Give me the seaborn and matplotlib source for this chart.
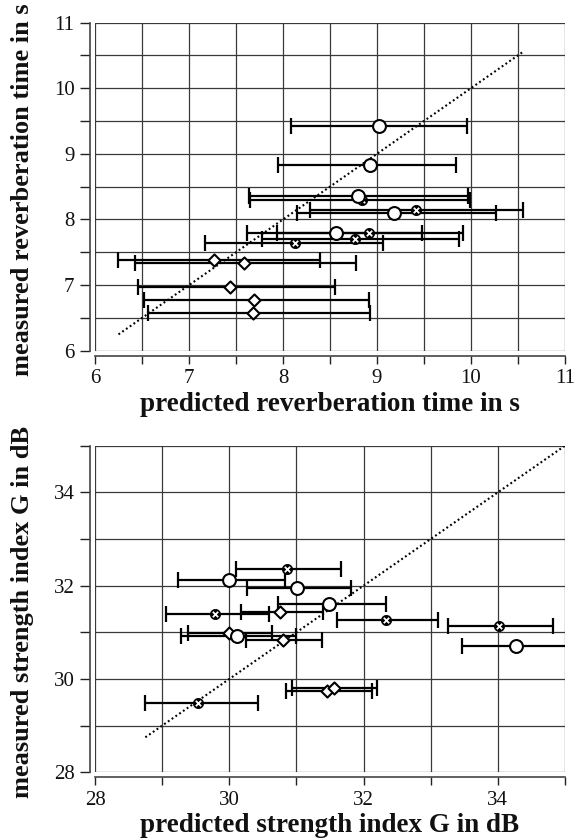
import numpy as np
import pandas as pd
import matplotlib
matplotlib.use("Agg")
import matplotlib.pyplot as plt
import seaborn as sns
from matplotlib.ticker import MultipleLocator, FuncFormatter

# ---------------- data: reverberation time (s) ----------------
rt_circ_x = [9.02, 8.93, 8.80, 9.18, 8.56]
rt_circ_y = [9.42, 8.83, 8.36, 8.10, 7.79]
rt_circ_lo = [8.08, 7.95, 7.64, 8.15, 7.62]
rt_circ_hi = [9.96, 9.84, 9.97, 10.27, 9.48]

rt_cross_x = [8.84, 9.42, 8.92, 8.77, 8.13]
rt_cross_y = [8.29, 8.15, 7.80, 7.71, 7.64]
rt_cross_lo = [7.65, 8.29, 7.94, 7.78, 7.17]
rt_cross_hi = [9.99, 10.55, 9.91, 9.87, 9.06]

rt_diam_x = [7.27, 7.58, 7.44, 7.69, 7.68]
rt_diam_y = [7.38, 7.33, 6.97, 6.77, 6.58]
rt_diam_lo = [6.25, 6.43, 6.46, 6.52, 6.56]
rt_diam_hi = [8.39, 8.78, 8.55, 8.91, 8.93]

rt_diag = [6.25, 10.55]

# ---------------- data: strength index G (dB) ----------------
g_circ_x = [30.00, 31.01, 31.49, 30.11, 34.27]
g_circ_y = [32.13, 31.95, 31.60, 30.93, 30.71]
g_circ_lo = [29.23, 30.27, 30.72, 29.28, 33.46]
g_circ_hi = [30.83, 31.82, 32.33, 31.00, 35.08]

g_cross_x = [30.86, 29.79, 32.33, 34.01, 29.54]
g_cross_y = [32.35, 31.39, 31.26, 31.14, 29.48]
g_cross_lo = [30.10, 29.05, 31.61, 33.25, 28.75]
g_cross_hi = [31.67, 30.59, 33.11, 34.82, 30.43]

g_diam_x = [30.76, 29.99, 30.80, 31.46, 31.56]
g_diam_y = [31.44, 30.98, 30.83, 29.75, 29.81]
g_diam_lo = [30.17, 29.38, 30.25, 30.84, 30.94]
g_diam_hi = [31.39, 30.64, 31.38, 32.12, 32.20]

g_diag = [28.75, 35.0]

rt_xlabel = "predicted reverberation time in s"
rt_ylabel = "measured reverberation time in s"
g_xlabel = "predicted strength index G in dB"
g_ylabel = "measured strength index G in dB"

# ---------------- style ----------------
sns.set_theme(style="ticks")
plt.rcParams["font.family"] = ["Liberation Serif", "DejaVu Serif"]

fig = plt.figure(figsize=(5.74, 8.39), dpi=100)
ax1 = fig.add_axes([95 / 574, 1 - 350.8 / 839, 470 / 574, 328.3 / 839])
ax2 = fig.add_axes([95 / 574, 1 - 772.3 / 839, 470 / 574, 326.6 / 839])


def frame(x, y, lo, hi):
    return pd.DataFrame({"x": x, "y": y, "lo": lo, "hi": hi})


def draw(ax, circ, cross, diam, diag, lim, step, label_step, xlabel, ylabel):
    ax.set_xlim(*lim)
    ax.set_ylim(*lim)
    # diagonal
    sns.lineplot(x=diag, y=diag, ax=ax, color="black", lw=1.5,
                 dashes=False, zorder=2).lines[-1].set_dashes([0.9, 1.3])
    # error bars
    for df in (diam, cross, circ):
        ax.errorbar(df["x"], df["y"], xerr=[df["x"] - df["lo"], df["hi"] - df["x"]],
                    fmt="none", ecolor="black", elinewidth=1.6, capsize=5.8,
                    capthick=1.6, zorder=3)
    # cross markers: black disc with white x
    sns.scatterplot(data=cross, x="x", y="y", ax=ax, marker="o", s=54,
                    color="black", edgecolor="black", linewidth=0.6, zorder=4)
    sns.scatterplot(data=cross, x="x", y="y", ax=ax, marker="x", s=15,
                    color="white", linewidth=1.3, zorder=4.5)
    # diamonds
    sns.scatterplot(data=diam, x="x", y="y", ax=ax, marker="D", s=38,
                    color="white", edgecolor="black", linewidth=1.5, zorder=5)
    # circles
    sns.scatterplot(data=circ, x="x", y="y", ax=ax, marker="o", s=86,
                    color="white", edgecolor="black", linewidth=1.5, zorder=6)

    ax.xaxis.set_major_locator(MultipleLocator(step))
    ax.yaxis.set_major_locator(MultipleLocator(step))
    fmt = FuncFormatter(lambda v, p: (f"{v:g}" if abs(v / label_step - round(v / label_step)) < 1e-6 else ""))
    ax.xaxis.set_major_formatter(fmt)
    ax.yaxis.set_major_formatter(fmt)
    ax.grid(True, color="#3a3a3a", lw=0.9)
    ax.set_axisbelow(True)
    for s in ("top", "right"):
        ax.spines[s].set_visible(False)
    ax.spines["left"].set_position(("outward", 3.8))
    ax.spines["bottom"].set_position(("outward", 3.4))
    ax.spines["left"].set_bounds(*lim)
    ax.spines["bottom"].set_bounds(*lim)
    for s in ("left", "bottom"):
        ax.spines[s].set_color("#444444")
        ax.spines[s].set_linewidth(1.2)
    ax.tick_params(axis="y", length=7, width=1.0, color="#222222", labelsize=15,
                   pad=4, labelcolor="#111111")
    ax.tick_params(axis="x", length=5.5, width=1.0, color="#222222", labelsize=15,
                   pad=4.5, labelcolor="#111111")
    ax.set_xlabel(xlabel, fontsize=19.5, fontweight="bold", color="#111111")
    ax.set_ylabel(ylabel, fontsize=19, fontweight="bold", color="#111111")
    ax.xaxis.set_label_coords(0.5, -0.125)
    ax.yaxis.set_label_coords(-0.13, 0.49)
    ax.xaxis.label.set_va("top")


draw(ax1,
     frame(rt_circ_x, rt_circ_y, rt_circ_lo, rt_circ_hi),
     frame(rt_cross_x, rt_cross_y, rt_cross_lo, rt_cross_hi),
     frame(rt_diam_x, rt_diam_y, rt_diam_lo, rt_diam_hi),
     rt_diag, (6, 11), 0.5, 1, rt_xlabel, rt_ylabel)

draw(ax2,
     frame(g_circ_x, g_circ_y, g_circ_lo, g_circ_hi),
     frame(g_cross_x, g_cross_y, g_cross_lo, g_cross_hi),
     frame(g_diam_x, g_diam_y, g_diam_lo, g_diam_hi),
     g_diag, (28, 35), 1, 2, g_xlabel, g_ylabel)

fig.savefig("out.png", dpi=100)
